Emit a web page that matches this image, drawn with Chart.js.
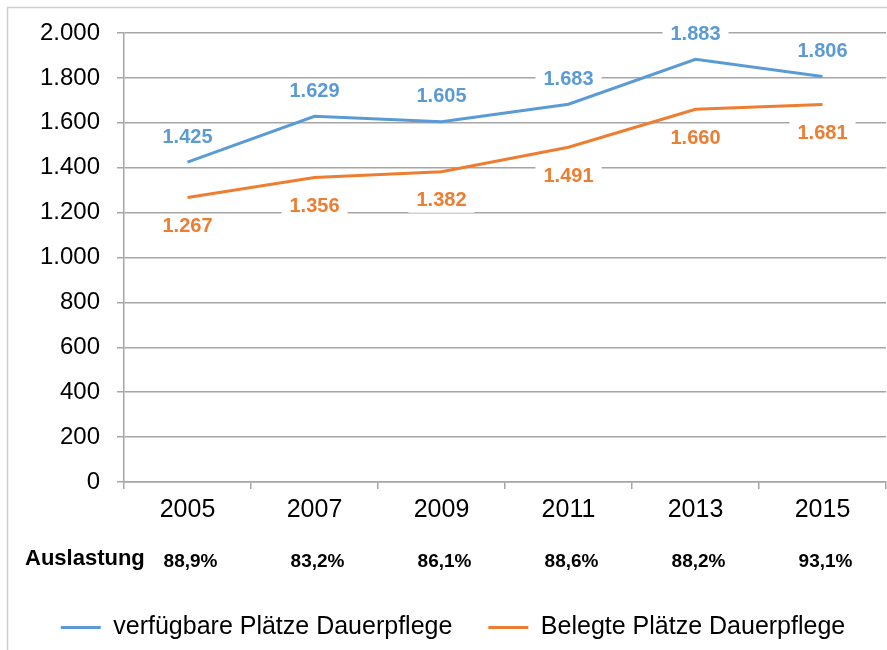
<!DOCTYPE html>
<html>
<head>
<meta charset="utf-8">
<script src="https://cdn.jsdelivr.net/npm/chart.js@4/dist/chart.umd.min.js"></script>
<style>
  body { margin: 0; background: #fff; }
</style>
</head>
<body>
<canvas id="chart" width="887" height="650"></canvas>
<script>
const years = ['2005', '2007', '2009', '2011', '2013', '2015'];
const verfuegbarePlaetze = [1425, 1629, 1605, 1683, 1883, 1806];
const belegtePlaetze = [1267, 1356, 1382, 1491, 1660, 1681];
const auslastung = ['88,9%', '83,2%', '86,1%', '88,6%', '88,2%', '93,1%'];

const BLUE = '#5b9bd5';
const ORANGE = '#ed7d31';
const GRID = '#a6a6a6';
const FONT = '"Liberation Sans", Arial, sans-serif';

function fmt(n) {
  return String(n).replace(/\B(?=(\d{3})+(?!\d))/g, '.');
}

// outer frame of the chart
const framePlugin = {
  id: 'frame',
  beforeDraw(chart) {
    const ctx = chart.ctx;
    ctx.save();
    ctx.strokeStyle = '#d0d0d0';
    ctx.lineWidth = 1.5;
    ctx.strokeRect(7.5, 7.5, 1000, 1000);
    ctx.restore();
  }
};

// value labels with white background
const valueLabels = {
  id: 'valueLabels',
  afterDatasetsDraw(chart) {
    const ctx = chart.ctx;
    const offsets = [-25, 29];
    ctx.save();
    ctx.font = 'bold 20px ' + FONT;
    ctx.textAlign = 'center';
    ctx.textBaseline = 'middle';
    chart.data.datasets.forEach((ds, i) => {
      const meta = chart.getDatasetMeta(i);
      meta.data.forEach((pt, j) => {
        const txt = fmt(ds.data[j]);
        const x = pt.x;
        const y = pt.y + offsets[i];
        const w = ctx.measureText(txt).width + 16;
        ctx.fillStyle = '#fff';
        ctx.fillRect(x - w / 2, y - 12, w, 24);
        ctx.fillStyle = ds.borderColor;
        ctx.fillText(txt, x, y);
      });
    });
    ctx.restore();
  }
};

// "Auslastung" row under the axis
const auslastungRow = {
  id: 'auslastungRow',
  afterDraw(chart) {
    const ctx = chart.ctx;
    const x = chart.scales.x;
    ctx.save();
    ctx.fillStyle = '#000';
    ctx.textBaseline = 'middle';
    ctx.font = 'bold 22px ' + FONT;
    ctx.textAlign = 'left';
    ctx.fillText('Auslastung', 25, 559);
    ctx.font = 'bold 19px ' + FONT;
    ctx.textAlign = 'center';
    auslastung.forEach((v, i) => {
      ctx.fillText(v, x.getPixelForValue(i) + 3, 562);
    });
    ctx.restore();
  }
};

new Chart(document.getElementById('chart').getContext('2d'), {
  type: 'line',
  data: {
    labels: years,
    datasets: [
      {
        label: 'verfügbare Plätze Dauerpflege',
        data: verfuegbarePlaetze,
        borderColor: BLUE,
        backgroundColor: BLUE,
        borderWidth: 3,
        pointRadius: 0,
        tension: 0
      },
      {
        label: 'Belegte Plätze Dauerpflege',
        data: belegtePlaetze,
        borderColor: ORANGE,
        backgroundColor: ORANGE,
        borderWidth: 3,
        pointRadius: 0,
        tension: 0
      }
    ]
  },
  options: {
    responsive: false,
    animation: false,
    layout: {
      padding: { top: 33, left: 20, right: 1, bottom: 0 }
    },
    scales: {
      x: {
        offset: true,
        grid: {
          offset: true,
          drawOnChartArea: false,
          tickLength: 7,
          color: GRID,
          lineWidth: 1.5
        },
        border: { color: GRID, width: 1.5 },
        ticks: {
          color: '#000',
          padding: 6,
          font: { family: FONT, size: 25 }
        },
        afterFit(scale) {
          scale.height = 97;
        }
      },
      y: {
        min: 0,
        max: 2000,
        grid: {
          tickLength: 7,
          color: GRID,
          lineWidth: 1.5
        },
        border: { color: GRID, width: 1.5 },
        ticks: {
          stepSize: 200,
          color: '#000',
          padding: 17,
          font: { family: FONT, size: 24 },
          callback: v => fmt(v)
        },
        afterFit(scale) {
          scale.width = 104;
        }
      }
    },
    plugins: {
      legend: {
        position: 'bottom',
        labels: {
          usePointStyle: true,
          pointStyle: 'line',
          pointStyleWidth: 40,
          color: '#000',
          padding: 36,
          font: { family: FONT, size: 25 }
        }
      },
      tooltip: { enabled: false }
    }
  },
  plugins: [framePlugin, valueLabels, auslastungRow]
});
</script>
</body>
</html>
